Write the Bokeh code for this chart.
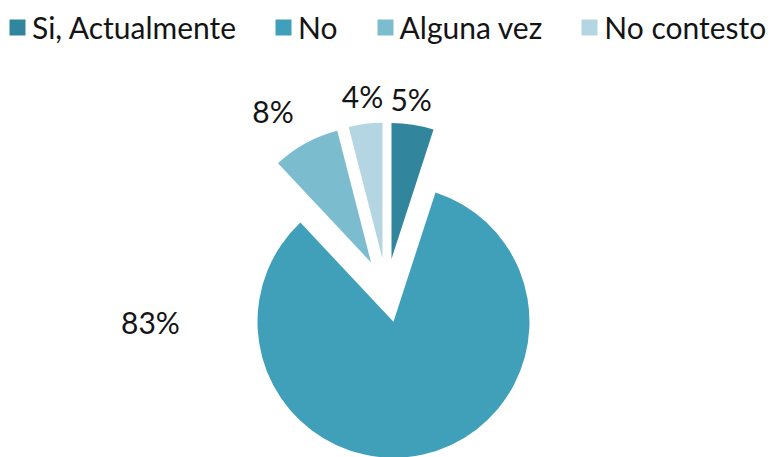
import math
from bokeh.plotting import figure
from bokeh.models import ColumnDataSource, Range1d, Legend, LegendItem
from bokeh.embed import file_html
from bokeh.resources import INLINE

# ---- data ----
categories = ["Si, Actualmente", "No", "Alguna vez", "No contesto"]
values = [5, 83, 8, 4]
colors = ["#31859C", "#40A0B9", "#7CBCCF", "#B4D6E3"]

# ---- layout (pixel-like data units; y up) ----
W, H = 777, 457
cx, cy = 386, H - 290
radius = 136
explode = 32
label_angle_cw = [7, 270, 327, 353]   # label direction, degrees clockwise from top
label_dist = [161, 243, 180, 164]
FONT = "Lato"
TEXT_COLOR = "#141414"

total = float(sum(values))
xs, ys, starts, ends, lx, ly, texts = [], [], [], [], [], [], []
cum = 0.0
for i, v in enumerate(values):
    a = cum / total
    b = (cum + v) / total
    cum += v
    start = math.radians(90 - 360 * b)
    end = math.radians(90 - 360 * a)
    mid = (start + end) / 2
    ox = cx + explode * math.cos(mid)
    oy = cy + explode * math.sin(mid)
    xs.append(ox)
    ys.append(oy)
    starts.append(start)
    ends.append(end)
    la = math.radians(90 - label_angle_cw[i])
    lx.append(ox + label_dist[i] * math.cos(la))
    ly.append(oy + label_dist[i] * math.sin(la))
    texts.append(f"{v}%")

src = ColumnDataSource(dict(x=xs, y=ys, start=starts, end=ends, color=colors,
                            label=categories))
lsrc = ColumnDataSource(dict(x=lx, y=ly, text=texts))

p = figure(width=W, height=H, output_backend="svg", toolbar_location=None,
           x_range=Range1d(0, W), y_range=Range1d(0, H), min_border=0)
p.axis.visible = False
p.grid.visible = False
p.outline_line_color = None
p.background_fill_color = "white"

r = p.wedge(x="x", y="y", radius=radius, start_angle="start", end_angle="end",
            fill_color="color", line_color=None, source=src)

p.text(x="x", y="y", text="text", source=lsrc, text_align="center",
       text_baseline="middle", text_font_size="30px", text_color=TEXT_COLOR,
       text_font={"value": FONT})

items = [LegendItem(label=c, renderers=[r], index=i) for i, c in enumerate(categories)]
legend = Legend(items=items, orientation="horizontal", location=(7, H - 45),
                label_text_font=FONT, label_text_font_size="30px",
                label_text_color=TEXT_COLOR, glyph_width=20, glyph_height=20,
                label_standoff=5, spacing=37, padding=0, margin=0,
                border_line_color=None, background_fill_alpha=0)
p.add_layout(legend)

open("out.html", "w").write(file_html(p, INLINE))
